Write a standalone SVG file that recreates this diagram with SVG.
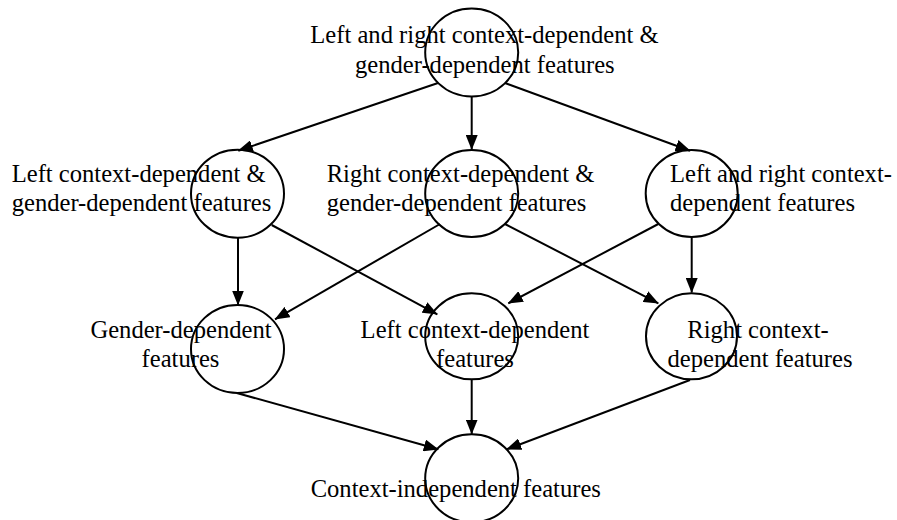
<svg xmlns="http://www.w3.org/2000/svg" width="897" height="520" viewBox="0 0 897 520">
<defs>
<marker id="arr" markerUnits="userSpaceOnUse" markerWidth="15" markerHeight="12" viewBox="0 0 15 12" refX="14.5" refY="6" orient="auto">
<path d="M0,0 L15,6 L0,12 Z" fill="#000"/>
</marker>
</defs>
<style>
.n{fill:none;stroke:#000;stroke-width:2}
.t{font-family:"Liberation Serif","Times New Roman",serif;font-size:24.6px;fill:#000}
.c{text-anchor:middle}
.e{stroke:#000;stroke-width:2;fill:none;marker-end:url(#arr)}
</style>
<rect width="897" height="520" fill="#fff"/>
<g id="connectors">
<line class="e" x1="438" y1="83" x2="238.3" y2="150.7"/>
<line class="e" x1="471.7" y1="96.5" x2="471.7" y2="149.5"/>
<line class="e" x1="505" y1="83" x2="690" y2="150.7"/>
<line class="e" x1="238" y1="237.5" x2="238" y2="305"/>
<line class="e" x1="271.7" y1="225" x2="437.3" y2="314.3"/>
<line class="e" x1="440" y1="224" x2="275" y2="319.3"/>
<line class="e" x1="505" y1="224" x2="658.3" y2="303.3"/>
<line class="e" x1="658.3" y1="224" x2="508.3" y2="303.3"/>
<line class="e" x1="691.7" y1="237.5" x2="691.7" y2="292.5"/>
<line class="e" x1="236.7" y1="393" x2="438.3" y2="449.3"/>
<line class="e" x1="471.7" y1="380" x2="471.7" y2="434"/>
<line class="e" x1="690" y1="380" x2="506.7" y2="449.3"/>
</g>
<g id="node-top">
<ellipse class="n" cx="471.7" cy="52.5" rx="46.5" ry="44"/>
<text class="t c" x="484.5" y="43.3">Left and right context-dependent &amp;</text>
<text class="t c" x="484.8" y="72.7">gender-dependent features</text>
</g>
<g id="node-left-mid">
<ellipse class="n" cx="237.5" cy="193.7" rx="46.5" ry="44"/>
<text class="t" x="11.7" y="181.7">Left context-dependent &amp;</text>
<text class="t" x="11.7" y="211">gender-dependent features</text>
</g>
<g id="node-center-mid">
<ellipse class="n" cx="471.7" cy="193.5" rx="46.5" ry="43.5"/>
<text class="t" x="326.7" y="181.7">Right context-dependent &amp;</text>
<text class="t" x="326.7" y="211">gender-dependent features</text>
</g>
<g id="node-right-mid">
<ellipse class="n" cx="691.7" cy="193.5" rx="46" ry="43.5"/>
<text class="t" x="670" y="181.7">Left and right context-</text>
<text class="t" x="670" y="211">dependent features</text>
</g>
<g id="node-gender">
<ellipse class="n" cx="237.5" cy="349" rx="46.5" ry="44"/>
<text class="t c" x="181" y="338.3">Gender-dependent</text>
<text class="t c" x="180.5" y="367.3">features</text>
</g>
<g id="node-left">
<ellipse class="n" cx="471.7" cy="336.3" rx="46.5" ry="43"/>
<text class="t c" x="475" y="338.3">Left context-dependent</text>
<text class="t c" x="475" y="367.3">features</text>
</g>
<g id="node-right">
<ellipse class="n" cx="691.5" cy="336.3" rx="45.5" ry="43"/>
<text class="t c" x="758" y="338.3">Right context-</text>
<text class="t c" x="760" y="367.3">dependent features</text>
</g>
<g id="node-independent">
<ellipse class="n" cx="471.7" cy="478.3" rx="46.5" ry="44"/>
<text class="t c" x="455.8" y="496.7">Context-independent features</text>
</g>
</svg>
